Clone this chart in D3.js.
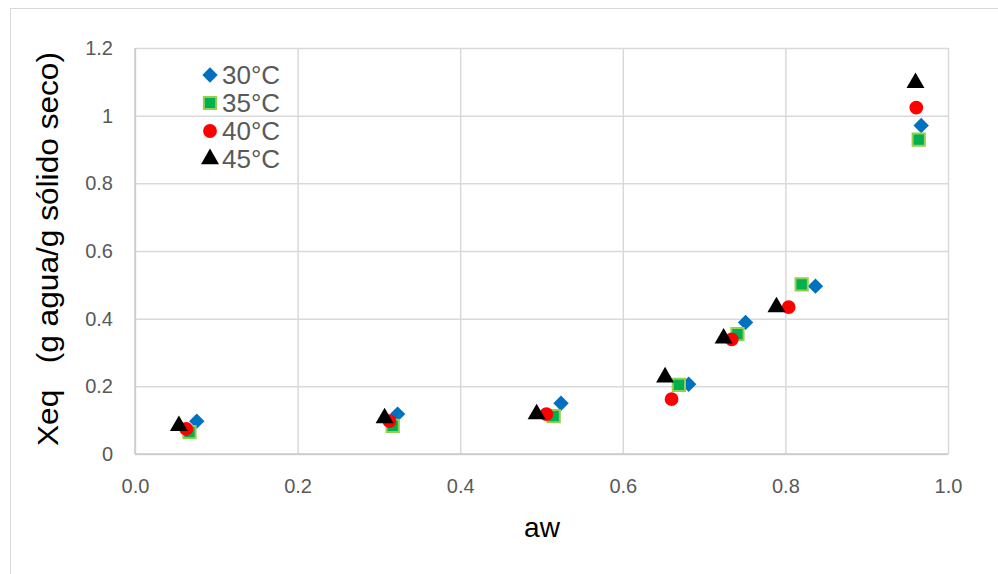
<!DOCTYPE html>
<html>
<head>
	<script src="https://cdn.jsdelivr.net/npm/d3@7"></script>
	<style>
		body { margin: 0; background: white; }
		text { font-family: "Liberation Sans", Arial, sans-serif; }
	</style>
</head>
<body>
	<script>

		var width = 998, height = 574;

		// data
		var series = ["30°C", "35°C", "40°C", "45°C"];

		var aw_30  = [0.076, 0.323, 0.524, 0.681, 0.751, 0.837, 0.967];
		var xeq_30 = [0.097, 0.118, 0.150, 0.206, 0.389, 0.496, 0.971];

		var aw_35  = [0.067, 0.317, 0.515, 0.669, 0.741, 0.820, 0.964];
		var xeq_35 = [0.065, 0.083, 0.112, 0.204, 0.354, 0.501, 0.929];

		var aw_40  = [0.063, 0.313, 0.506, 0.660, 0.734, 0.804, 0.961];
		var xeq_40 = [0.074, 0.097, 0.118, 0.162, 0.339, 0.434, 1.024];

		var aw_45  = [0.054, 0.307, 0.494, 0.652, 0.724, 0.789, 0.960];
		var xeq_45 = [0.083, 0.106, 0.118, 0.227, 0.342, 0.434, 1.097];

		var x_ticks = [0, 0.2, 0.4, 0.6, 0.8, 1.0];
		var y_ticks = [0, 0.2, 0.4, 0.6, 0.8, 1, 1.2];

		var all_aw  = [aw_30, aw_35, aw_40, aw_45];
		var all_xeq = [xeq_30, xeq_35, xeq_40, xeq_45];

		// styling for each series (diamond = square turned 45 degrees)
		var symbols = [d3.symbolSquare, d3.symbolSquare, d3.symbolCircle, d3.symbolTriangle];
		var rotate  = [45, 0, 0, 0];
		var sizes   = [118, 150, 150, 140];
		var fills   = ["#0070C0", "#00B050", "#FF0000", "#000000"];
		var strokes = ["none", "#92D050", "none", "none"];

		var svg = d3.select("body").append("svg")
			.attr("width", width)
			.attr("height", height);

		// outer chart frame
		svg.append("rect")
			.attr("x", 10.5).attr("y", 8.5)
			.attr("width", 1000).attr("height", 600)
			.attr("fill", "white")
			.attr("stroke", "#d9d9d9");

		var x = d3.scaleLinear().domain([0, 1]).range([135, 948]);
		var y = d3.scaleLinear().domain([0, 1.2]).range([454, 48]);

		// gridlines
		var xAxis = svg.append("g")
			.attr("transform", "translate(0," + y(0) + ")")
			.call(d3.axisBottom(x).tickValues(x_ticks)
				.tickSize(-(y(0) - y(1.2)))
				.tickPadding(25)
				.tickFormat(d3.format(".1f")));

		var yAxis = svg.append("g")
			.attr("transform", "translate(" + x(0) + ",0)")
			.call(d3.axisLeft(y).tickValues(y_ticks)
				.tickSize(-(x(1) - x(0)))
				.tickPadding(22)
				.tickFormat(function(d) { return d3.format("")(d); }));

		[xAxis, yAxis].forEach(function(ax) {
			ax.select(".domain").remove();
			ax.selectAll(".tick line")
				.attr("stroke", "#d9d9d9")
				.attr("stroke-width", 1.5);
			ax.selectAll(".tick text")
				.attr("fill", "#595959")
				.style("font-size", "20px");
		});

		// axis lines
		svg.append("line")
			.attr("x1", x(0)).attr("x2", x(0))
			.attr("y1", y(1.2)).attr("y2", y(0))
			.attr("stroke", "#c8c8c8").attr("stroke-width", 1.5);
		svg.append("line")
			.attr("x1", x(0)).attr("x2", x(1))
			.attr("y1", y(0)).attr("y2", y(0))
			.attr("stroke", "#c8c8c8").attr("stroke-width", 1.5);

		function marker(sel, i) {
			sel.attr("d", d3.symbol().type(symbols[i]).size(sizes[i]))
				.attr("fill", fills[i])
				.attr("stroke", strokes[i])
				.attr("stroke-width", 2);
		}

		// points
		for (var s = 0; s < series.length; s++) {
			var pts = all_aw[s].map(function(a, i) {
				return { aw: a, xeq: all_xeq[s][i] };
			});
			svg.append("g").selectAll("path")
				.data(pts)
				.enter().append("path")
				.attr("transform", function(d) {
					return "translate(" + x(d.aw) + "," + y(d.xeq) + ") rotate(" + rotate[s] + ")";
				})
				.call(marker, s);
		}

		// legend
		var legend = svg.append("g");
		series.forEach(function(name, i) {
			var ly = 75 + i * 28;
			legend.append("path")
				.attr("transform", "translate(210," + ly + ") rotate(" + rotate[i] + ")")
				.call(marker, i);
			legend.append("text")
				.attr("x", 222)
				.attr("y", ly + 9)
				.attr("fill", "#595959")
				.style("font-size", "26px")
				.text(name);
		});

		// axis titles
		svg.append("text")
			.attr("x", 542)
			.attr("y", 537)
			.attr("text-anchor", "middle")
			.style("font-size", "28px")
			.text("aw");

		svg.append("text")
			.attr("transform", "translate(58,249) rotate(-90)")
			.attr("text-anchor", "middle")
			.attr("textLength", 394)
			.attr("lengthAdjust", "spacingAndGlyphs")
			.attr("xml:space", "preserve")
			.style("white-space", "pre")
			.style("font-size", "30px")
			.text("Xeq   (g agua/g sólido seco)");

	</script>
</body>
</html>
